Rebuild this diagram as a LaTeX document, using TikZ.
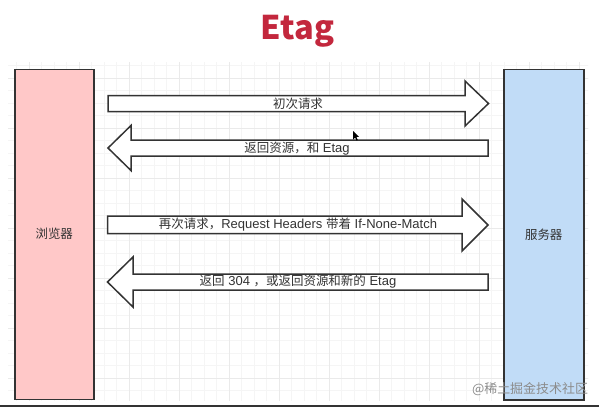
\documentclass[tikz,border=0pt]{standalone}
\usepackage{fontspec}
\setmainfont{Liberation Sans}
\newfontfamily\cjk{Noto Sans CJK SC}[Scale=0.96]
\definecolor{linec}{HTML}{333333}
\definecolor{pinkf}{HTML}{FFC8C8}
\definecolor{bluef}{HTML}{C1DCF7}
\definecolor{titlec}{HTML}{C3273D}
\definecolor{gridminor}{HTML}{F5F5F5}
\definecolor{gridmajor}{HTML}{EAEAEA}
\definecolor{wmark}{HTML}{8C8C8C}
\begin{document}
\begin{tikzpicture}[x=1pt,y=-1pt,
  box/.style={draw=linec, line width=1.5pt, inner sep=0pt, anchor=north west,
    font=\cjk\fontsize{13}{15}\selectfont, text=linec},
  blockarrow/.style={draw=linec, line width=1.5pt, fill=white, line join=miter},
  lbl/.style={font=\fontsize{13}{15}\selectfont, text=linec, inner sep=0pt}]
\useasboundingbox (0,0) rectangle (599,408);
\fill[white] (0,0) rectangle (599,408);
% grid
\begin{scope}
  \clip (8,62) rectangle (588,400);
  \begin{scope}[shift={(29,28)}]
    \draw[gridminor, line width=0.8pt, step=12.5pt] (-30,30) grid (570,380);
    \draw[gridmajor, line width=0.9pt, step=50pt] (-30,30) grid (570,380);
  \end{scope}
\end{scope}
% title
\node[inner sep=0pt, font={\cjk\bfseries\fontsize{34}{40}\selectfont}, text=titlec] (title) at (297.5,31) {Etag};
% boxes
\node[box, fill=pinkf, minimum width=79pt, minimum height=330pt] (browser) at (14,68.5) {浏览器};
\node[box, fill=bluef, minimum width=80pt, minimum height=330.5pt] (server) at (503,68.5) {服务器};
% arrows
\draw[blockarrow] (108,95.5) -- (465,95.5) -- (465,81) -- (488.5,103.5) -- (465,126) -- (465,111.5) -- (108,111.5) -- cycle;
\node[lbl] (m1) at (298,103.5) {\cjk 初次请求};
\draw[blockarrow] (108,148) -- (131,125.5) -- (131,140) -- (488,140) -- (488,156) -- (131,156) -- (131,170.5) -- cycle;
\node[lbl] (m2) at (297,148.5) {{\cjk 返回资源，和} Etag};
\draw[blockarrow] (107.5,216) -- (462,216) -- (462,199) -- (488,225) -- (462,251) -- (462,233.5) -- (107.5,233.5) -- cycle;
\node[lbl] (m3) at (298,225) {{\cjk 再次请求，}Request Headers {\cjk 带着} If-None-Match};
\draw[blockarrow] (107.5,282) -- (133,257) -- (133,274) -- (488,274) -- (488,290) -- (133,290) -- (133,307) -- cycle;
\node[lbl] (m4) at (298,282) {{\cjk 返回} 304 {\cjk ，或返回资源和新的} Etag};
% cursor
\fill[black] (353,131) -- (353,139.5) -- (355,137.5) -- (356.5,140.5) -- (357.8,140) -- (356.4,137) -- (359,136.8) -- cycle;
% watermark
\node[inner sep=0pt, font={\cjk\fontsize{13.5}{15}\selectfont}, text=wmark] (wm) at (530,389) {@稀土掘金技术社区};
% bottom edge
\fill[linec] (0,404.5) rectangle (599,407);
\end{tikzpicture}
\end{document}
